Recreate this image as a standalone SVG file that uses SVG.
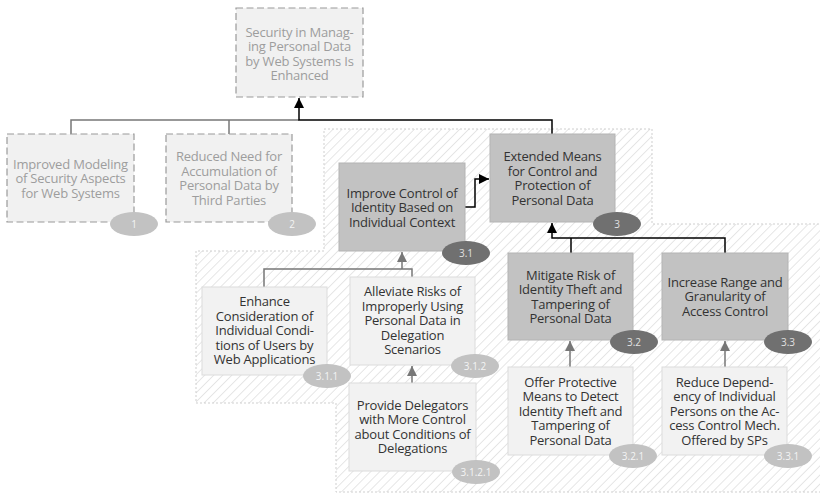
<svg xmlns="http://www.w3.org/2000/svg" width="820" height="494" viewBox="0 0 820 494">
  <defs>
    <pattern id="hatch" patternUnits="userSpaceOnUse" width="6.4" height="6.4" patternTransform="rotate(45)">
      <line x1="0" y1="0" x2="0" y2="6.4" stroke="#d2d2d2" stroke-width="1.1"/>
    </pattern>
    <marker id="arrowBlack" viewBox="0 0 10 10" refX="10" refY="5" markerWidth="10" markerHeight="10" markerUnits="userSpaceOnUse" orient="auto">
      <path d="M0,0 L10,5 L0,10 Z" fill="#000"/>
    </marker>
    <marker id="arrowGray" viewBox="0 0 10 10" refX="10" refY="5" markerWidth="10" markerHeight="10" markerUnits="userSpaceOnUse" orient="auto">
      <path d="M0,0 L10,5 L0,10 Z" fill="#777"/>
    </marker>
  </defs>
  <style>
    text { font-family: "Open Sans", "Noto Sans", "DejaVu Sans", sans-serif; font-size: 13px; letter-spacing: -0.2px; text-anchor: middle; }
    .future rect { fill: #f1f1f1; stroke: #9a9a9a; stroke-width: 1.2; stroke-dasharray: 7 3.5; }
    .future text { fill: #9d9d9d; }
    .goal rect { fill: #c2c2c2; stroke: #b4b4b4; stroke-width: 1; }
    .goal text { fill: #333; }
    .leaf rect { fill: #f2f2f2; stroke: #dcdcdc; stroke-width: 1; }
    .leaf text { fill: #333; }
    .badge-dark ellipse { fill: #707070; }
    .badge-dark text { fill: #e0e0e0; font-size: 10px; letter-spacing: 0; }
    .badge-light ellipse { fill: #c2c2c2; }
    .badge-light text { fill: #f4f4f4; font-size: 10px; letter-spacing: 0; }
    .conn-black { fill: none; stroke: #000; stroke-width: 1.5; }
    .conn-gray { fill: none; stroke: #777; stroke-width: 1.5; }
  </style>

  <!-- hatched grouping area -->
  <g id="scope">
    <path d="M324,129 L652,129 L652,224 L821,224 L821,492 L336,492 L336,403 L196,403 L196,251 L324,251 Z" fill="url(#hatch)" stroke="#cfcfcf" stroke-width="1" stroke-dasharray="2 2"/>
  </g>

  <!-- connectors -->
  <g id="connectors">
    <path class="conn-gray" d="M71,134 V120 H299"/>
    <path class="conn-gray" d="M229,134 V120"/>
    <path class="conn-black" d="M552,134 V120 H299 V98" marker-end="url(#arrowBlack)"/>
    <path class="conn-black" d="M465,207 H475 V179 H489" marker-end="url(#arrowBlack)"/>
    <path class="conn-black" d="M725,253 V238 H552 V223" marker-end="url(#arrowBlack)"/>
    <path class="conn-black" d="M571,253 V238"/>
    <path class="conn-gray" d="M264,287 V269 H412 V277"/>
    <path class="conn-gray" d="M402,269 V252" marker-end="url(#arrowGray)"/>
    <path class="conn-gray" d="M412,383 V366" marker-end="url(#arrowGray)"/>
    <path class="conn-gray" d="M570,367 V341" marker-end="url(#arrowGray)"/>
    <path class="conn-gray" d="M725,367 V341" marker-end="url(#arrowGray)"/>
  </g>

  <g id="node-top" class="future">
    <rect x="236" y="8" width="127" height="89"/>
    <text><tspan x="299.5" y="36.5">Security in Manag-</tspan><tspan x="299.5" y="51">ing Personal Data</tspan><tspan x="299.5" y="65.5">by Web Systems Is</tspan><tspan x="299.5" y="80">Enhanced</tspan></text>
  </g>

  <g id="node-1" class="future">
    <rect x="7" y="134" width="127" height="88"/>
    <text><tspan x="70.5" y="168.5">Improved Modeling</tspan><tspan x="70.5" y="183">of Security Aspects</tspan><tspan x="70.5" y="197.5">for Web Systems</tspan></text>
    <g class="badge-light"><ellipse cx="134" cy="224" rx="24" ry="12"/><text x="134" y="227.5">1</text></g>
  </g>

  <g id="node-2" class="future">
    <rect x="166" y="134" width="126" height="88"/>
    <text><tspan x="229" y="161">Reduced Need for</tspan><tspan x="229" y="175.5">Accumulation of</tspan><tspan x="229" y="190">Personal Data by</tspan><tspan x="229" y="204.5">Third Parties</tspan></text>
    <g class="badge-light"><ellipse cx="292" cy="224" rx="24" ry="12"/><text x="292" y="227.5">2</text></g>
  </g>

  <g id="node-3" class="goal">
    <rect x="490" y="134" width="125" height="88"/>
    <text><tspan x="552.5" y="161">Extended Means</tspan><tspan x="552.5" y="175.5">for Control and</tspan><tspan x="552.5" y="190">Protection of</tspan><tspan x="552.5" y="204.5">Personal Data</tspan></text>
    <g class="badge-dark"><ellipse cx="617" cy="224" rx="24" ry="12"/><text x="617" y="227.5">3</text></g>
  </g>

  <g id="node-3-1" class="goal">
    <rect x="339" y="163" width="126" height="88"/>
    <text><tspan x="402" y="197.5">Improve Control of</tspan><tspan x="402" y="212">Identity Based on</tspan><tspan x="402" y="226.5">Individual Context</tspan></text>
    <g class="badge-dark"><ellipse cx="466" cy="253" rx="24" ry="12"/><text x="466" y="256.5">3.1</text></g>
  </g>

  <g id="node-3-1-1" class="leaf">
    <rect x="202" y="287" width="125" height="88"/>
    <text><tspan x="264.5" y="306">Enhance</tspan><tspan x="264.5" y="320.5">Consideration of</tspan><tspan x="264.5" y="335">Individual Condi-</tspan><tspan x="264.5" y="349.5">tions of Users by</tspan><tspan x="264.5" y="364">Web Applications</tspan></text>
    <g class="badge-light"><ellipse cx="327" cy="376" rx="24" ry="12"/><text x="327" y="379.5">3.1.1</text></g>
  </g>

  <g id="node-3-1-2" class="leaf">
    <rect x="350" y="277" width="125" height="88"/>
    <text><tspan x="412.5" y="296">Alleviate Risks of</tspan><tspan x="412.5" y="310.5">Improperly Using</tspan><tspan x="412.5" y="325">Personal Data in</tspan><tspan x="412.5" y="339.5">Delegation</tspan><tspan x="412.5" y="354">Scenarios</tspan></text>
    <g class="badge-light"><ellipse cx="475" cy="366" rx="24" ry="12"/><text x="475" y="369.5">3.1.2</text></g>
  </g>

  <g id="node-3-1-2-1" class="leaf">
    <rect x="349" y="383" width="127" height="88"/>
    <text><tspan x="412.5" y="409.5">Provide Delegators</tspan><tspan x="412.5" y="424">with More Control</tspan><tspan x="412.5" y="438.5">about Conditions of</tspan><tspan x="412.5" y="453">Delegations</tspan></text>
    <g class="badge-light"><ellipse cx="476" cy="472" rx="24" ry="12"/><text x="476" y="475.5">3.1.2.1</text></g>
  </g>

  <g id="node-3-2" class="goal">
    <rect x="508" y="253" width="125" height="87"/>
    <text><tspan x="570.5" y="279.5">Mitigate Risk of</tspan><tspan x="570.5" y="294">Identity Theft and</tspan><tspan x="570.5" y="308.5">Tampering of</tspan><tspan x="570.5" y="323">Personal Data</tspan></text>
    <g class="badge-dark"><ellipse cx="634" cy="342" rx="24" ry="12"/><text x="634" y="345.5">3.2</text></g>
  </g>

  <g id="node-3-3" class="goal">
    <rect x="662" y="253" width="126" height="87"/>
    <text><tspan x="725" y="286.5">Increase Range and</tspan><tspan x="725" y="301">Granularity of</tspan><tspan x="725" y="315.5">Access Control</tspan></text>
    <g class="badge-dark"><ellipse cx="788" cy="342" rx="24" ry="12"/><text x="788" y="345.5">3.3</text></g>
  </g>

  <g id="node-3-2-1" class="leaf">
    <rect x="508" y="367" width="125" height="88"/>
    <text><tspan x="570.5" y="386.5">Offer Protective</tspan><tspan x="570.5" y="401">Means to Detect</tspan><tspan x="570.5" y="415.5">Identity Theft and</tspan><tspan x="570.5" y="430">Tampering of</tspan><tspan x="570.5" y="444.5">Personal Data</tspan></text>
    <g class="badge-light"><ellipse cx="633" cy="456" rx="24" ry="12"/><text x="633" y="459.5">3.2.1</text></g>
  </g>

  <g id="node-3-3-1" class="leaf">
    <rect x="662" y="367" width="125" height="88"/>
    <text><tspan x="724.5" y="386.5">Reduce Depend-</tspan><tspan x="724.5" y="401">ency of Individual</tspan><tspan x="724.5" y="415.5">Persons on the Ac-</tspan><tspan x="724.5" y="430">cess Control Mech.</tspan><tspan x="724.5" y="444.5">Offered by SPs</tspan></text>
    <g class="badge-light"><ellipse cx="788" cy="456" rx="24" ry="12"/><text x="788" y="459.5">3.3.1</text></g>
  </g>
</svg>
